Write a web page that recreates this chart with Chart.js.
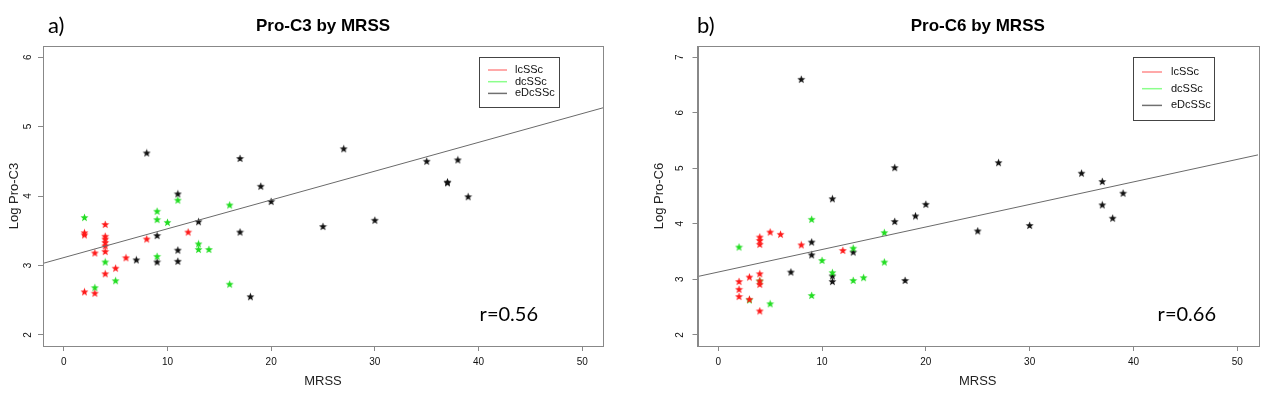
<!DOCTYPE html>
<html>
<head>
<meta charset="utf-8">
<script src="https://cdn.jsdelivr.net/npm/chart.js@4"></script>
<style>
  body { margin: 0; background: #fff; }
  #wrap { position: relative; width: 1280px; height: 399px; }
  canvas { position: absolute; top: 0; }
</style>
</head>
<body>
<div id="wrap">
  <canvas id="chartA" width="640" height="399" style="left:0"></canvas>
  <canvas id="chartB" width="640" height="399" style="left:640px"></canvas>
</div>
<script>
// ---- panel a) Pro-C3 ----
const c3LcMrss = [2, 2, 2, 3, 3, 4, 4, 4, 4, 4, 4, 4, 5, 6, 8, 12];
const c3LcVal  = [3.47, 3.44, 2.62, 3.18, 2.60, 3.59, 3.42, 3.38, 3.33, 3.28, 3.20, 2.88, 2.96, 3.11, 3.38, 3.48];
const c3DcMrss = [2, 3, 4, 5, 9, 9, 9, 10, 11, 13, 13, 14, 16, 16];
const c3DcVal  = [3.69, 2.68, 3.05, 2.78, 3.78, 3.66, 3.13, 3.62, 3.94, 3.31, 3.23, 3.23, 3.87, 2.73];
const c3EdMrss = [7, 8, 9, 9, 11, 11, 11, 13, 17, 17, 18, 19, 20, 25, 27, 30, 35, 37, 37, 38, 39];
const c3EdVal  = [3.08, 4.62, 3.43, 3.05, 4.03, 3.22, 3.06, 3.63, 4.54, 3.48, 2.55, 4.14, 3.92, 3.56, 4.68, 3.65, 4.50, 4.20, 4.19, 4.52, 3.99];
const c3FitX = [-2, 52];
const c3FitY = [3.03, 5.27];

// ---- panel b) Pro-C6 ----
const c6LcMrss = [2, 2, 2, 3, 3, 4, 4, 4, 4, 4, 4, 4, 5, 6, 8, 12];
const c6LcVal  = [2.96, 2.82, 2.69, 3.04, 2.64, 3.76, 3.70, 3.63, 3.10, 2.97, 2.91, 2.43, 3.85, 3.81, 3.62, 3.52];
const c6DcMrss = [2, 3, 4, 5, 9, 9, 10, 11, 13, 13, 14, 16, 16];
const c6DcVal  = [3.58, 2.63, 2.97, 2.56, 4.08, 2.71, 3.34, 3.12, 3.56, 2.98, 3.03, 3.84, 3.31];
const c6EdMrss = [7, 8, 9, 9, 11, 11, 11, 13, 17, 17, 18, 19, 20, 25, 27, 30, 35, 37, 37, 38, 39];
const c6EdVal  = [3.13, 6.60, 3.67, 3.44, 4.45, 3.06, 2.96, 3.49, 5.01, 4.04, 2.98, 4.14, 4.35, 3.87, 5.10, 3.97, 4.91, 4.76, 4.34, 4.10, 4.55];
const c6FitX = [-2, 52];
const c6FitY = [3.05, 5.24];

const groupNames = ['lcSSc', 'dcSSc', 'eDcSSc'];
const starColors = ['#ff1a1a', '#22dd22', '#111111'];
const legendColors = ['#ff8c8c', '#8cff8c', '#707070'];

function pairs(xs, ys) {
  return xs.map((x, i) => ({x: x, y: ys[i]}));
}

// little filled star used as point style
function starImage(color) {
  const c = document.createElement('canvas');
  c.width = 9; c.height = 9;
  const g = c.getContext('2d');
  g.fillStyle = color;
  g.beginPath();
  for (let i = 0; i < 10; i++) {
    const r = i % 2 ? 1.8 : 4.2;
    const a = -Math.PI / 2 + i * Math.PI / 5;
    g.lineTo(4.5 + r * Math.cos(a), 4.8 + r * Math.sin(a));
  }
  g.closePath();
  g.fill();
  return c;
}
const stars = starColors.map(starImage);

// frame, titles, rotated y ticks, legend, r value
const decorPlugin = {
  id: 'decor',
  afterDraw(chart, args, o) {
    const ctx = chart.ctx;
    const ca = chart.chartArea;
    ctx.save();
    ctx.strokeStyle = '#888';
    ctx.lineWidth = 1;
    ctx.strokeRect(Math.round(ca.left) + 0.5, Math.round(ca.top) + 0.5,
      Math.round(ca.right - ca.left), Math.round(ca.bottom - ca.top));

    // y tick labels, R style (rotated)
    const ys = chart.scales.y;
    ctx.fillStyle = '#111';
    ctx.font = '10px "Liberation Sans", Arial, sans-serif';
    ctx.textAlign = 'center';
    ctx.textBaseline = 'middle';
    ys.ticks.forEach(t => {
      const py = ys.getPixelForValue(t.value);
      ctx.save();
      ctx.translate(o.yTickX, py);
      ctx.rotate(-Math.PI / 2);
      ctx.fillText(String(t.value), 0, 0);
      ctx.restore();
    });

    // main title + panel letter
    ctx.fillStyle = '#000';
    ctx.font = 'bold 17px "Liberation Sans", Arial, sans-serif';
    ctx.fillText(o.title, (ca.left + ca.right) / 2, 26);
    ctx.textAlign = 'left';
    ctx.font = '22px Lato, "Open Sans", sans-serif';
    ctx.fillText(o.panel, o.panelX, 26);

    // r value
    ctx.font = '20px Lato, "Open Sans", sans-serif';
    ctx.textAlign = 'right';
    ctx.fillText(o.rText, o.rX, 315);

    // legend box
    const L = o.legend;
    ctx.strokeStyle = '#444';
    ctx.strokeRect(L.x + 0.5, L.y + 0.5, L.w, L.h);
    ctx.font = '11px "Liberation Sans", Arial, sans-serif';
    ctx.textAlign = 'left';
    groupNames.forEach((name, i) => {
      const ry = L.y + L.row0 + i * L.gap;
      ctx.strokeStyle = legendColors[i];
      ctx.lineWidth = 1.5;
      ctx.beginPath();
      ctx.moveTo(L.x + L.lineX0, ry);
      ctx.lineTo(L.x + L.lineX1, ry);
      ctx.stroke();
      ctx.fillStyle = '#111';
      ctx.fillText(name, L.x + L.textX, ry);
    });
    ctx.restore();
  }
};

function makeChart(id, groups, fitX, fitY, yMin, yMax, yLabel, p) {
  const datasets = groups.map((g, i) => ({
    label: groupNames[i],
    data: pairs(g[0], g[1]),
    pointStyle: stars[i],
    pointRadius: 4,
    order: 1
  }));
  datasets.push({
    label: 'fit',
    data: pairs(fitX, fitY),
    showLine: true,
    borderColor: '#6a6a6a',
    borderWidth: 1,
    pointRadius: 0,
    order: 0
  });
  return new Chart(document.getElementById(id), {
    type: 'scatter',
    data: {datasets: datasets},
    options: {
      responsive: false,
      animation: false,
      layout: {padding: {left: 0, right: p.padRight, top: 46, bottom: 0}},
      plugins: {
        legend: {display: false},
        tooltip: {enabled: false},
        decor: p
      },
      scales: {
        x: {
          type: 'linear',
          min: -2, max: 52,
          afterFit: s => { s.height = 53; },
          ticks: {stepSize: 10, includeBounds: false, padding: 5, color: '#111',
                  font: {size: 10, family: '"Liberation Sans", Arial, sans-serif'}},
          grid: {drawOnChartArea: false, drawTicks: true, tickLength: 5, color: '#888'},
          border: {display: true, color: '#888'},
          title: {display: true, text: 'MRSS', color: '#222', padding: {top: 0, bottom: 10},
                  font: {size: 13, family: '"Liberation Sans", Arial, sans-serif'}}
        },
        y: {
          type: 'linear',
          min: yMin, max: yMax,
          afterFit: s => { s.width = p.yWidth; },
          ticks: {stepSize: 1, includeBounds: false, display: false},
          grid: {drawOnChartArea: false, drawTicks: true, tickLength: 5, color: '#888'},
          border: {display: true, color: '#888'},
          title: {display: true, text: yLabel, color: '#222', padding: {top: p.yTitlePad, bottom: 0},
                  font: {size: 13, family: '"Liberation Sans", Arial, sans-serif'}}
        }
      }
    },
    plugins: [decorPlugin]
  });
}

makeChart('chartA',
  [[c3LcMrss, c3LcVal], [c3DcMrss, c3DcVal], [c3EdMrss, c3EdVal]],
  c3FitX, c3FitY, 1.84, 6.16, 'Log Pro-C3',
  {title: 'Pro-C3 by MRSS', panel: 'a)', panelX: 48, rText: 'r=0.56', rX: 538,
   padRight: 37, yWidth: 43, yTitlePad: 7, yTickX: 28.5,
   legend: {x: 479, y: 57, w: 80, h: 50, row0: 13, gap: 11.7, lineX0: 9, lineX1: 28, textX: 36}});

makeChart('chartB',
  [[c6LcMrss, c6LcVal], [c6DcMrss, c6DcVal], [c6EdMrss, c6EdVal]],
  c6FitX, c6FitY, 1.8, 7.2, 'Log Pro-C6',
  {title: 'Pro-C6 by MRSS', panel: 'b)', panelX: 57, rText: 'r=0.66', rX: 576,
   padRight: 22, yWidth: 57.5, yTitlePad: 12, yTickX: 40.7,
   legend: {x: 493, y: 57, w: 81, h: 63, row0: 15, gap: 16.7, lineX0: 9, lineX1: 29, textX: 38}});
</script>
</body>
</html>
